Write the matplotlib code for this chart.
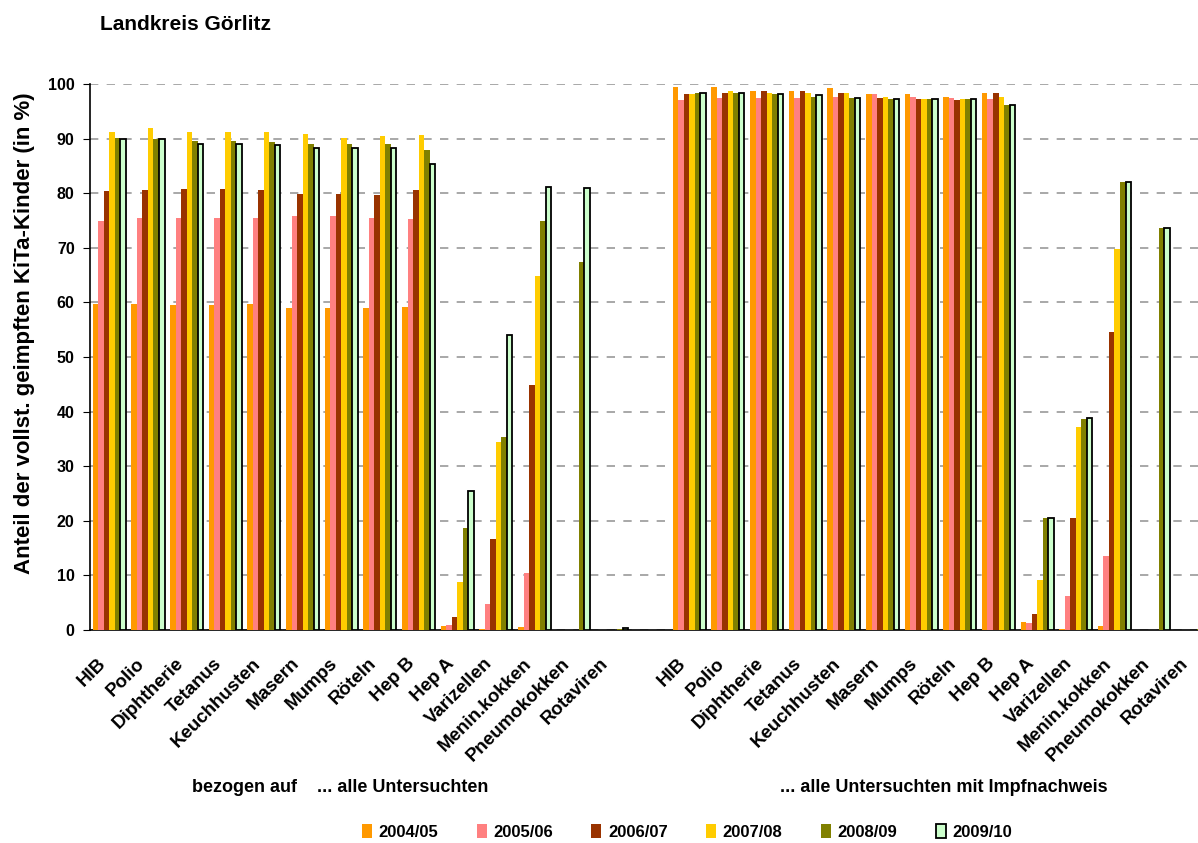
import matplotlib.pyplot as plt
import matplotlib.transforms as mtransforms
import numpy as np

plt.rcParams['font.family'] = ['Liberation Sans', 'DejaVu Sans']
plt.rcParams['font.weight'] = 'bold'

vaccines = ['HIB', 'Polio', 'Diphtherie', 'Tetanus', 'Keuchhusten', 'Masern', 'Mumps',
            'Röteln', 'Hep B', 'Hep A', 'Varizellen', 'Menin.kokken', 'Pneumokokken', 'Rotaviren']
years = ['2004/05', '2005/06', '2006/07', '2007/08', '2008/09', '2009/10']
colors = ['#FF9900', '#FF8080', '#993300', '#FFCC00', '#808000', '#CCFFCC']

nan = np.nan
# share of fully vaccinated children, based on all examined children
all_examined = [
    [59.7, 59.7, 59.5, 59.5, 59.7, 59.0, 59.0, 59.0, 59.1, 0.7, 0.1, 0.6, nan, nan],
    [75.0, 75.5, 75.5, 75.5, 75.5, 75.9, 75.9, 75.5, 75.2, 0.9, 4.8, 10.4, nan, nan],
    [80.4, 80.6, 80.8, 80.8, 80.6, 79.9, 79.9, 79.6, 80.6, 2.4, 16.7, 44.8, nan, nan],
    [91.3, 91.9, 91.3, 91.3, 91.3, 90.9, 90.2, 90.4, 90.7, 8.7, 34.5, 64.9, nan, nan],
    [90.2, 89.9, 89.6, 89.6, 89.4, 89.1, 89.1, 89.1, 88.0, 18.7, 35.4, 75.0, 67.4, 0.1],
    [89.9, 89.9, 89.1, 89.1, 88.8, 88.3, 88.3, 88.3, 85.3, 25.5, 54.0, 81.2, 81.0, 0.3],
]
# share based on examined children with vaccination record
with_record = [
    [99.4, 99.4, 98.8, 98.8, 99.2, 98.1, 98.1, 97.7, 98.3, 1.5, 0.1, 0.7, nan, nan],
    [97.0, 97.5, 97.5, 97.5, 97.7, 98.1, 97.7, 97.5, 97.2, 1.3, 6.2, 13.6, nan, nan],
    [98.1, 98.3, 98.7, 98.7, 98.3, 97.5, 97.2, 97.0, 98.3, 2.9, 20.6, 54.6, nan, nan],
    [98.1, 98.8, 98.3, 98.3, 98.3, 97.7, 97.2, 97.2, 97.7, 9.2, 37.1, 69.8, nan, nan],
    [98.3, 98.3, 98.1, 97.7, 97.5, 97.2, 97.2, 97.2, 96.1, 20.6, 38.7, 82.1, 73.7, 0.1],
    [98.3, 98.3, 98.1, 97.9, 97.5, 97.2, 97.2, 97.2, 96.1, 20.6, 38.9, 82.1, 73.7, 0.2],
]

n = len(vaccines)
x_left = np.arange(n)
x_right = np.arange(n) + n + 1
x_all = np.concatenate([x_left, x_right])
labels = vaccines + vaccines

fig = plt.figure(figsize=(11.98, 8.43), dpi=100)
ax = fig.add_axes([90 / 1198, 1 - 630 / 843, 1 - 90 / 1198, (630 - 84) / 843])

width = 0.1425
for i in range(len(years)):
    vals = np.array(all_examined[i] + with_record[i], dtype=float)
    offset = (i - 2.5) * width
    if i == 5:
        ax.bar(x_all + offset, vals, width, color=colors[i], edgecolor='black',
               linewidth=1.3, label=years[i], zorder=3)
    else:
        ax.bar(x_all + offset, vals, width, color=colors[i], linewidth=0,
               label=years[i], zorder=3)

ax.set_ylim(0, 100)
ax.set_xlim(-0.5, 2 * n + 0.16)
ax.set_yticks(np.arange(0, 101, 10))
ax.tick_params(axis='y', labelsize=11.5, length=5, direction='out', pad=6)
ax.set_xticks(x_all)
ax.set_xticklabels(labels, rotation=45, ha='right', rotation_mode='anchor', fontsize=13.5)
ax.tick_params(axis='x', length=0, pad=18)
# shift the slanted labels a little to the left
shift = mtransforms.ScaledTranslation(-12 / 100, 0, fig.dpi_scale_trans)
for lbl in ax.get_xticklabels():
    lbl.set_transform(lbl.get_transform() + shift)

ax.yaxis.grid(True, color='#999999', linestyle=(0, (5, 5)), linewidth=1.2, zorder=0)
ax.set_axisbelow(True)
for side in ['top', 'right']:
    ax.spines[side].set_visible(False)
ax.spines['left'].set_linewidth(1.2)
ax.spines['bottom'].set_linewidth(1.2)

fig.text(25 / 1198, 1 - 333 / 843, 'Anteil der vollst. geimpften KiTa-Kinder (in %)',
         fontsize=16, rotation=90, ha='center', va='center')
fig.text(100 / 1198, 1 - 25 / 843, 'Landkreis Görlitz', fontsize=15, va='center')
fig.text(192 / 1198, 1 - 787 / 843, 'bezogen auf    ... alle Untersuchten', fontsize=13, va='center')
fig.text(780 / 1198, 1 - 787 / 843, '... alle Untersuchten mit Impfnachweis', fontsize=13, va='center')

fig.legend(loc='center', bbox_to_anchor=(687 / 1198, 1 - 832 / 843), ncol=6, frameon=False,
           fontsize=12, handlelength=0.6, handleheight=0.9, handletextpad=0.4,
           columnspacing=2.3)

fig.savefig('out.png', dpi=100)
